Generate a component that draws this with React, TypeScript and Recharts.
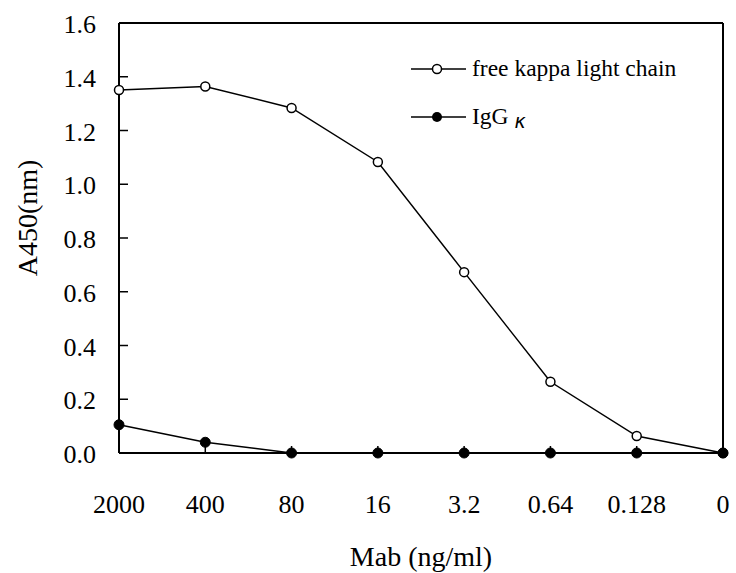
import { LineChart, Line, XAxis, YAxis, ReferenceLine } from 'recharts';

const CONCENTRATIONS = ['2000', '400', '80', '16', '3.2', '0.64', '0.128', '0'];
const FREE_KAPPA = [1.351, 1.364, 1.284, 1.083, 0.673, 0.265, 0.063, 0];
const IGG_KAPPA = [0.105, 0.04, 0, 0, 0, 0, 0, 0];
const Y_TICKS = [0, 0.2, 0.4, 0.6, 0.8, 1.0, 1.2, 1.4, 1.6];

const FONT = '"Liberation Serif", "Times New Roman", serif';

const data = CONCENTRATIONS.map((conc, i) => ({
  conc,
  free: FREE_KAPPA[i],
  igg: IGG_KAPPA[i],
}));

// ticks point inward, labels drawn by hand
const XTick = ({ x, y, payload }: any) => (
  <g>
    <line x1={x} x2={x} y1={y} y2={y - 7} stroke="#000" strokeWidth={1.5} />
    <text x={x} y={y + 60} textAnchor="middle" fontSize={26} fontFamily={FONT} fill="#000">
      {payload.value}
    </text>
  </g>
);

const YTick = ({ x, y, payload }: any) => (
  <g>
    <line x1={x} x2={x + 9} y1={y} y2={y} stroke="#000" strokeWidth={1.5} />
    <text x={x - 23} y={y + 10} textAnchor="end" fontSize={26} fontFamily={FONT} fill="#000">
      {Number(payload.value).toFixed(1)}
    </text>
  </g>
);

const YLabel = () => (
  <text
    x={37}
    y={218}
    transform="rotate(-90 37 218)"
    textAnchor="middle"
    fontSize={28}
    fontFamily={FONT}
    fill="#000"
  >
    A450(nm)
  </text>
);

const XLabel = () => (
  <text x={421} y={566} textAnchor="middle" fontSize={28} fontFamily={FONT} fill="#000">
    Mab (ng/ml)
  </text>
);

const LegendBox = () => (
  <div style={{ position: 'absolute', left: 411, top: 45, fontFamily: FONT, fontSize: 23.5, color: '#000' }}>
    <div style={{ display: 'flex', alignItems: 'center', height: 48 }}>
      <svg width={55} height={14}>
        <line x1={0} x2={55} y1={7} y2={7} stroke="#000" strokeWidth={1.5} />
        <circle cx={26} cy={7} r={4.5} fill="#fff" stroke="#000" strokeWidth={1.5} />
      </svg>
      <span style={{ marginLeft: 6, lineHeight: 1, whiteSpace: 'nowrap' }}>free kappa light chain</span>
    </div>
    <div style={{ display: 'flex', alignItems: 'center', height: 48 }}>
      <svg width={55} height={14}>
        <line x1={0} x2={55} y1={7} y2={7} stroke="#000" strokeWidth={1.5} />
        <circle cx={26} cy={7} r={5} fill="#000" />
      </svg>
      <span style={{ marginLeft: 6, lineHeight: 1, whiteSpace: 'nowrap' }}>
        IgG{' '}
        <span style={{ fontFamily: '"DejaVu Sans", sans-serif', fontStyle: 'italic', fontSize: 19, position: 'relative', top: 4 }}>
          κ
        </span>
      </span>
    </div>
  </div>
);

export default function App() {
  return (
    <div style={{ position: 'absolute', left: 0, top: 0, width: 736, height: 573, background: '#fff' }}>
      <LineChart
        width={736}
        height={573}
        data={data}
        margin={{ top: 23, right: 13, left: 0, bottom: 0 }}
      >
        <XAxis
          dataKey="conc"
          height={120}
          axisLine={{ stroke: '#000', strokeWidth: 2 }}
          tickLine={false}
          tickSize={0}
          tickMargin={0}
          tick={<XTick />}
          interval={0}
          label={<XLabel />}
        />
        <YAxis
          width={119}
          domain={[0, 1.6]}
          ticks={Y_TICKS}
          axisLine={{ stroke: '#000', strokeWidth: 2 }}
          tickLine={false}
          tickSize={0}
          tickMargin={0}
          tick={<YTick />}
          interval={0}
          label={<YLabel />}
        />
        <ReferenceLine y={1.6} stroke="#000" strokeWidth={2} ifOverflow="visible" />
        <ReferenceLine x="0" stroke="#000" strokeWidth={2} ifOverflow="visible" />
        <Line
          dataKey="free"
          stroke="#000"
          strokeWidth={1.5}
          dot={{ r: 4.5, fill: '#fff', stroke: '#000', strokeWidth: 1.5 }}
          activeDot={false}
          isAnimationActive={false}
        />
        <Line
          dataKey="igg"
          stroke="#000"
          strokeWidth={1.5}
          dot={{ r: 5, fill: '#000', stroke: '#000', strokeWidth: 1 }}
          activeDot={false}
          isAnimationActive={false}
        />
      </LineChart>
      <LegendBox />
    </div>
  );
}
